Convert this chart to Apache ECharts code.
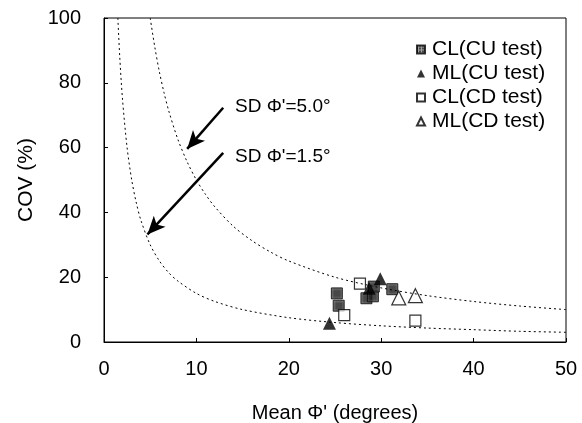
<!DOCTYPE html>
<html>
<head>
<meta charset="utf-8">
<script src="https://cdn.jsdelivr.net/npm/echarts@6/dist/echarts.min.js"></script>
<style>
  html, body { margin: 0; padding: 0; background: #fff; }
  #chart { width: 582px; height: 423px; }
</style>
</head>
<body>
<div id="chart"></div>
<script>
// points: [mean phi', COV %]
let cl_cu = [[25.2, 15.0], [25.4, 11.2], [28.4, 13.5], [29.1, 14.1], [29.2, 17.1], [31.2, 16.3]];
let ml_cu = [[24.4, 5.8], [28.7, 16.6], [29.9, 19.5]];
let cl_cd = [[27.7, 18.0], [26.0, 8.3], [33.7, 6.6]];
let ml_cd = [[31.9, 13.6], [33.7, 14.3]];

// dotted curves, values
let sd50_x = [5, 5.5, 6, 6.5, 7, 8, 9, 10, 11, 12, 14, 16, 18, 20, 25, 30, 35, 40, 45, 50];
let sd50_y = [100, 91, 83.3, 76.9, 71.4, 62.5, 55.6, 50, 45.5, 41.7, 35.7, 31.3, 27.8, 25, 20, 16.7, 14.3, 12.5, 11.1, 10];
let sd15_x = [1.5, 1.7, 2, 2.5, 3, 3.5, 4, 5, 6, 7, 8, 10, 12, 15, 20, 25, 30, 35, 40, 45, 50];
let sd15_y = [100, 88.2, 75, 60, 50, 42.9, 37.5, 30, 25, 21.4, 18.8, 15, 12.5, 10, 7.5, 6, 5, 4.3, 3.8, 3.3, 3];

let x_ticks = [0, 10, 20, 30, 40, 50];
let y_ticks = [0, 20, 40, 60, 80, 100];

function pairs(xs, ys) {
    return xs.map(function(x, i){ return [x, ys[i]]; });
}

// dark hatched fill for the CL(CU) squares
function gridPattern() {
    let c = document.createElement('canvas');
    c.width = 3;
    c.height = 3;
    let ctx = c.getContext('2d');
    ctx.fillStyle = '#1a1a1a';
    ctx.fillRect(0, 0, 3, 3);
    ctx.fillStyle = '#8a8a8a';
    ctx.fillRect(1, 0, 1, 3);
    ctx.fillRect(0, 1, 3, 1);
    return { image: c, repeat: 'repeat' };
}

let font = 'Liberation Sans, Arial, sans-serif';
let my_chart = echarts.init(document.getElementById('chart'));

let curve_style = { color: '#000', width: 1, type: [2, 3] };

let option = {
    animation: false,
    textStyle: { fontFamily: font, color: '#000' },
    grid: {
        left: 104,
        right: 16,
        top: 18,
        bottom: 81,
        outerBoundsMode: 'none',
        containLabel: false,
        show: true,
        borderColor: '#000',
        borderWidth: 1
    },
    legend: {
        orient: 'vertical',
        left: 411,
        top: 34,
        itemWidth: 8,
        itemHeight: 8,
        itemGap: 3,
        textStyle: { fontFamily: font, fontSize: 21, color: '#000', padding: [0, 0, 0, 2] },
        data: ['CL(CU test)', 'ML(CU test)', 'CL(CD test)', 'ML(CD test)']
    },
    xAxis: {
        type: 'value',
        min: x_ticks[0],
        max: x_ticks[x_ticks.length - 1],
        interval: 10,
        name: "Mean \u03A6' (degrees)",
        nameLocation: 'middle',
        nameGap: 61,
        nameTextStyle: { fontSize: 20, color: '#000' },
        axisLine: { lineStyle: { color: '#000', width: 1 } },
        axisTick: { inside: true, length: 4, lineStyle: { color: '#000' } },
        axisLabel: { fontSize: 20, color: '#000', margin: 17 },
        splitLine: { show: false }
    },
    yAxis: {
        type: 'value',
        min: y_ticks[0],
        max: y_ticks[y_ticks.length - 1],
        interval: 20,
        name: 'COV (%)',
        nameLocation: 'middle',
        nameGap: 66,
        nameTextStyle: { fontSize: 21, color: '#000' },
        axisLine: { lineStyle: { color: '#000', width: 1 } },
        axisTick: { inside: true, length: 4, lineStyle: { color: '#000' } },
        axisLabel: { fontSize: 20, color: '#000', margin: 23 },
        splitLine: { show: false }
    },
    series: [
        {
            name: 'SD 5.0',
            type: 'line',
            smooth: 0.3,
            symbol: 'none',
            lineStyle: curve_style,
            data: pairs(sd50_x, sd50_y),
            markLine: {
                silent: true,
                symbol: ['none', 'arrow'],
                symbolSize: [12, 18],
                lineStyle: { color: '#000', width: 2.5, type: 'solid' },
                label: { show: false },
                data: [
                    [{ coord: [12.9, 72.3] }, { coord: [9.0, 59.6] }],
                    [{ coord: [12.9, 58.4] }, { coord: [4.7, 33.2] }]
                ]
            }
        },
        {
            name: 'SD 1.5',
            type: 'line',
            smooth: 0.3,
            symbol: 'none',
            lineStyle: curve_style,
            data: pairs(sd15_x, sd15_y)
        },
        {
            name: 'CL(CU test)',
            type: 'scatter',
            symbol: 'rect',
            symbolSize: 11,
            itemStyle: { color: gridPattern(), borderColor: '#000', borderWidth: 1 },
            data: cl_cu
        },
        {
            name: 'ML(CU test)',
            type: 'scatter',
            symbol: 'triangle',
            symbolSize: 13,
            itemStyle: { color: '#000' },
            data: ml_cu
        },
        {
            name: 'CL(CD test)',
            type: 'scatter',
            symbol: 'rect',
            symbolSize: 11,
            itemStyle: { color: '#fff', borderColor: '#000', borderWidth: 1.2 },
            data: cl_cd
        },
        {
            name: 'ML(CD test)',
            type: 'scatter',
            symbol: 'triangle',
            symbolSize: 14,
            itemStyle: { color: '#fff', borderColor: '#000', borderWidth: 1.2 },
            data: ml_cd
        }
    ],
    graphic: [
        {
            type: 'text',
            left: 235,
            top: 97,
            style: { text: "SD \u03A6'=5.0\u00B0", font: '19px ' + font, fill: '#000' }
        },
        {
            type: 'text',
            left: 235,
            top: 147,
            style: { text: "SD \u03A6'=1.5\u00B0", font: '19px ' + font, fill: '#000' }
        }
    ]
};

my_chart.setOption(option);
</script>
</body>
</html>
